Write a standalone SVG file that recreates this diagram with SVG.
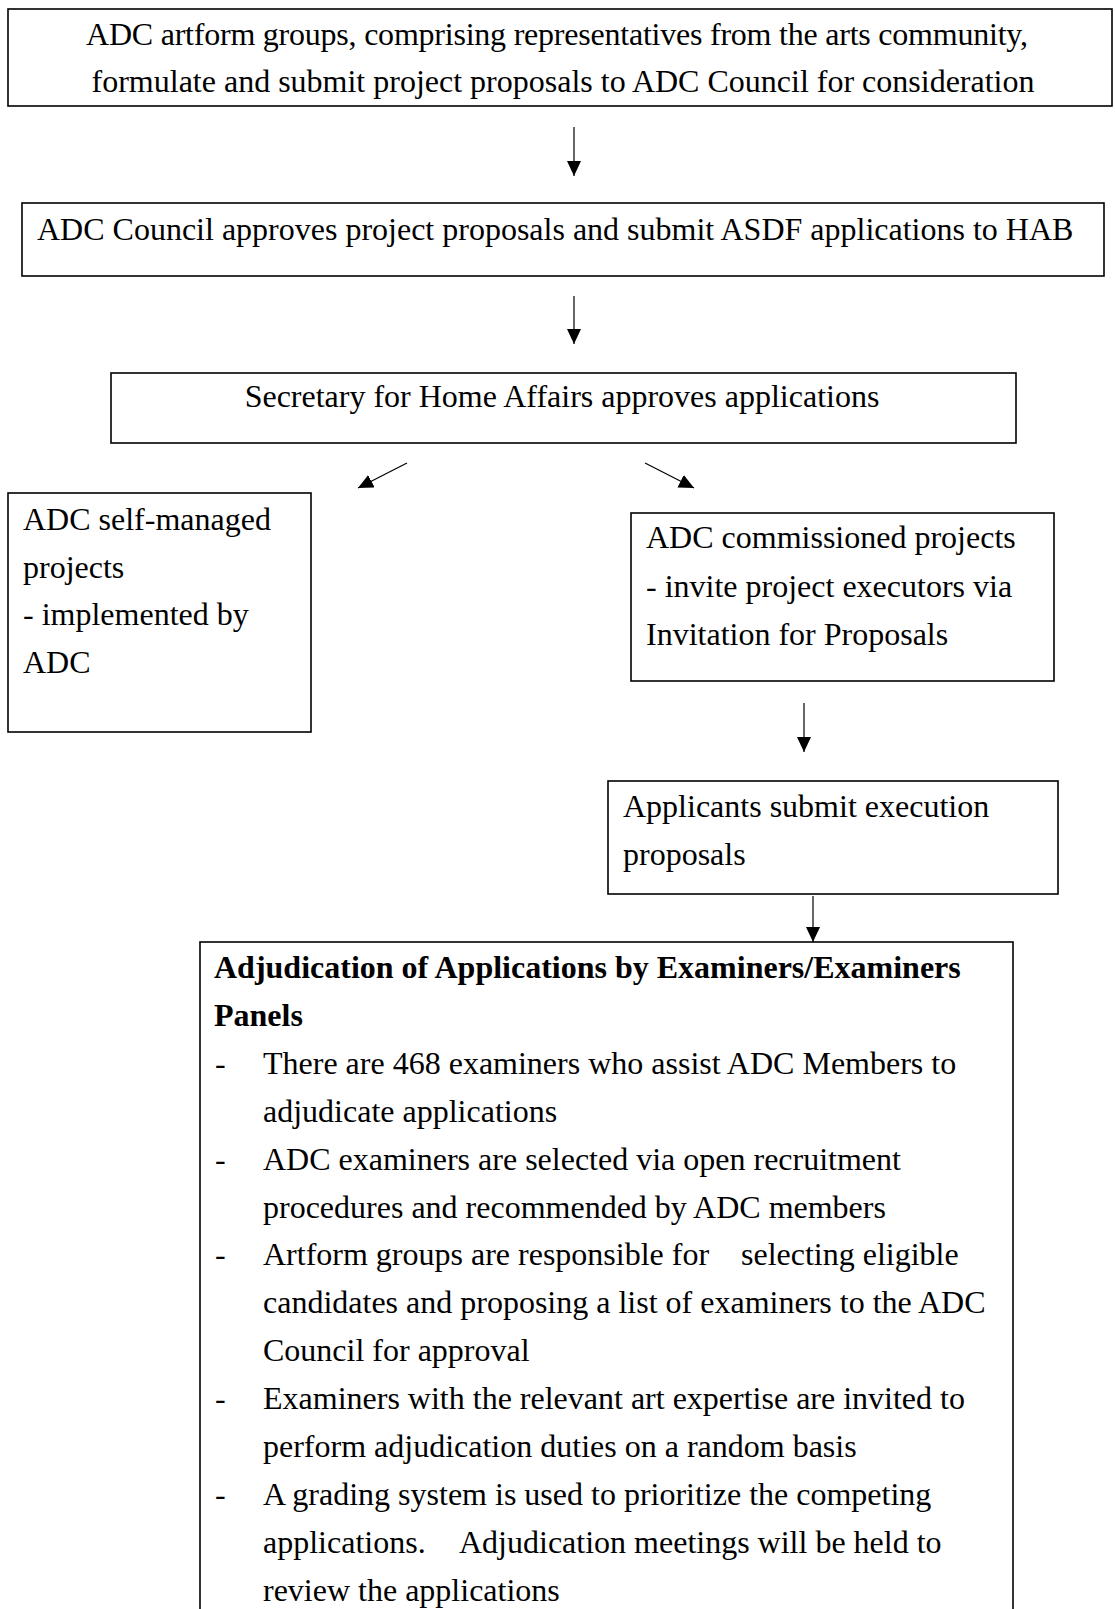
<svg xmlns="http://www.w3.org/2000/svg" width="1115" height="1609" viewBox="0 0 1115 1609">
<style>
.box{fill:#fff;stroke:#000;stroke-width:1.6}
text{font-family:"Liberation Serif","Times New Roman",serif;font-size:32px;fill:#000}
.b{font-weight:bold}
.mid{text-anchor:middle}
.conn line{stroke:#000;stroke-width:1.2;marker-end:url(#ah)}
</style>
<defs>
<marker id="ah" markerUnits="userSpaceOnUse" markerWidth="16" markerHeight="16" refX="15" refY="7" orient="auto"><path d="M0,0 L15,7 L0,14 z" fill="#000"/></marker>
</defs>
<rect x="0" y="0" width="1115" height="1609" fill="#fff"/>
<g id="n1">
<rect class="box" x="8" y="9" width="1104" height="97"/>
<text class="mid" x="557" y="45" textLength="942" lengthAdjust="spacing">ADC artform groups, comprising representatives from the arts community,</text>
<text class="mid" x="563" y="92">formulate and submit project proposals to ADC Council for consideration</text>
</g>
<g id="n2">
<rect class="box" x="22" y="203" width="1082" height="73"/>
<text x="37" y="240">ADC Council approves project proposals and submit ASDF applications to HAB</text>
</g>
<g id="n3">
<rect class="box" x="111" y="373" width="905" height="70"/>
<text class="mid" x="562" y="407">Secretary for Home Affairs approves applications</text>
</g>
<g id="n4">
<rect class="box" x="8" y="493" width="303" height="239"/>
<text x="23" y="530">ADC self-managed</text>
<text x="23" y="578">projects</text>
<text x="23" y="625">- implemented by</text>
<text x="23" y="673">ADC</text>
</g>
<g id="n5">
<rect class="box" x="631" y="513" width="423" height="168"/>
<text x="646" y="548">ADC commissioned projects</text>
<text x="646" y="597">- invite project executors via</text>
<text x="646" y="645">Invitation for Proposals</text>
</g>
<g id="n6">
<rect class="box" x="608" y="781" width="450" height="113"/>
<text x="623" y="817">Applicants submit execution</text>
<text x="623" y="865">proposals</text>
</g>
<g id="n7">
<rect class="box" x="200" y="942" width="813" height="700"/>
<text class="b" x="214" y="978">Adjudication of Applications by Examiners/Examiners</text>
<text class="b" x="214" y="1026">Panels</text>
<text x="215" y="1074">-</text>
<text x="263" y="1074">There are 468 examiners who assist ADC Members to</text>
<text x="263" y="1122">adjudicate applications</text>
<text x="215" y="1170">-</text>
<text x="263" y="1170">ADC examiners are selected via open recruitment</text>
<text x="263" y="1218">procedures and recommended by ADC members</text>
<text x="215" y="1265">-</text>
<text x="263" y="1265">Artform groups are responsible for<tspan x="741">selecting eligible</tspan></text>
<text x="263" y="1313">candidates and proposing a list of examiners to the ADC</text>
<text x="263" y="1361">Council for approval</text>
<text x="215" y="1409">-</text>
<text x="263" y="1409">Examiners with the relevant art expertise are invited to</text>
<text x="263" y="1457">perform adjudication duties on a random basis</text>
<text x="215" y="1505">-</text>
<text x="263" y="1505">A grading system is used to prioritize the competing</text>
<text x="263" y="1553">applications.<tspan x="459">Adjudication meetings will be held to</tspan></text>
<text x="263" y="1601">review the applications</text>
</g>
<g id="connectors" class="conn">
<line x1="574" y1="127" x2="574" y2="176"/>
<line x1="574" y1="296" x2="574" y2="344"/>
<line x1="407" y1="463" x2="358" y2="488"/>
<line x1="645" y1="463" x2="694" y2="488"/>
<line x1="804" y1="703" x2="804" y2="752"/>
<line x1="813" y1="896" x2="813" y2="942"/>
</g>
</svg>
